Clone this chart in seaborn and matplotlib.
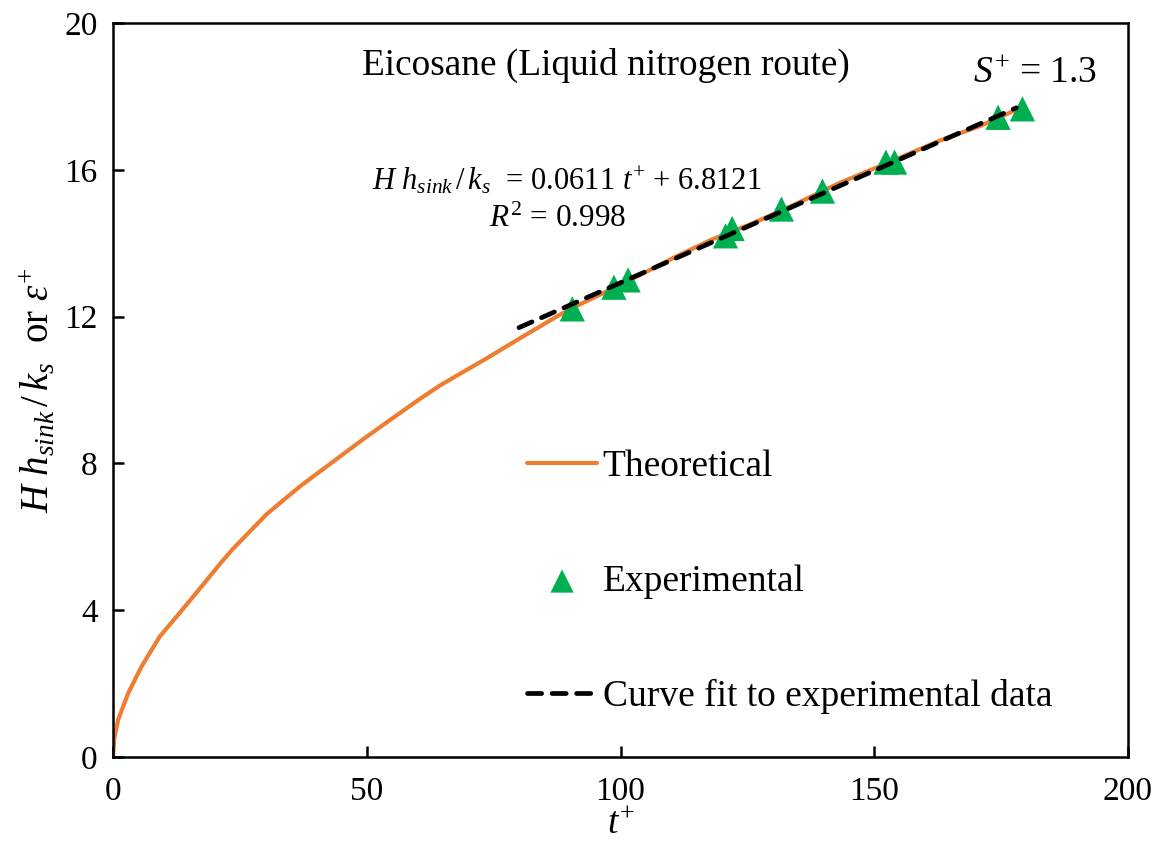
import matplotlib
matplotlib.use("Agg")
import matplotlib.pyplot as plt
import seaborn as sns
import pandas as pd

# ---- data ----
theo_t = [0, 0.25, 1.0, 3.0, 5.6, 9.2, 12.8, 16.7, 21.3, 23.7, 30.3, 36.8,
          43.4, 50.0, 56.6, 60.5, 64.4, 67.1, 73.6, 80.2, 86.8, 90, 96,
          103.8, 110.4, 118, 126.2, 135, 143.3, 152, 163, 171, 179]
theo_y = [0, 0.5, 1.01, 1.74, 2.46, 3.28, 3.87, 4.52, 5.3, 5.68, 6.62, 7.37,
          8.05, 8.73, 9.38, 9.76, 10.12, 10.34, 10.86, 11.41, 11.95, 12.2, 12.6,
          13.13, 13.6, 14.1, 14.55, 15.1, 15.65, 16.15, 16.8, 17.2, 17.7]

exp_t = [90.5, 98.7, 101.5, 120.7, 122.0, 131.7, 139.8, 152.3, 154.0, 174.4, 179.2]
exp_y = [12.21, 12.80, 13.0, 14.2, 14.4, 14.93, 15.42, 16.21, 16.21, 17.43, 17.66]

fit_t = [80, 178]
fit_y = [11.70, 17.69]

x_ticks = [0, 50, 100, 150, 200]
y_ticks = [0, 4, 8, 12, 16, 20]

# ---- style ----
sns.set_style("ticks")
plt.rcParams['font.family'] = ['Liberation Serif', 'DejaVu Serif']
plt.rcParams['mathtext.fontset'] = 'custom'
plt.rcParams['mathtext.rm'] = 'Liberation Serif'
plt.rcParams['mathtext.it'] = 'Liberation Serif:italic'
plt.rcParams['mathtext.bf'] = 'Liberation Serif:bold'
for k in ['text.color', 'axes.labelcolor', 'xtick.color', 'ytick.color', 'axes.edgecolor']:
    plt.rcParams[k] = 'black'

fig = plt.figure(figsize=(11.6, 8.5), dpi=100)
ax = fig.add_axes([113/1160, 1-757/850, (1128-113)/1160, (757-23)/850])

orange = '#ED7D31'
green = '#00B050'

df_theo = pd.DataFrame({'t': theo_t, 'y': theo_y})
df_exp = pd.DataFrame({'t': exp_t, 'y': exp_y})
df_fit = pd.DataFrame({'t': fit_t, 'y': fit_y})

sns.lineplot(data=df_theo, x='t', y='y', ax=ax, color=orange, linewidth=3,
             label='Theoretical', sort=False, zorder=2)
ax.lines[-1].set_solid_joinstyle('round')
sns.scatterplot(data=df_exp, x='t', y='y', ax=ax, color=green, marker='^',
                s=330, edgecolor='none', label='Experimental', zorder=3)
sns.lineplot(data=df_fit, x='t', y='y', ax=ax, color='black', linewidth=3.4,
             label='Curve fit to experimental data', zorder=4)
ax.lines[-1].set_dashes((3.0, 2.2))
ax.lines[-1].set_dash_capstyle('round')

ax.set_xlim(0, 200)
ax.set_ylim(0, 20)
ax.set_xticks(x_ticks)
ax.set_yticks(y_ticks)
ax.tick_params(direction='in', length=8, width=1.8, labelsize=24, colors='black')
ax.tick_params(axis='x', pad=14)
ax.tick_params(axis='y', pad=11)
for sp in ax.spines.values():
    sp.set_linewidth(1.8)
    sp.set_color('black')

ax.set_xlabel(r'$t^{+}$', fontsize=27, labelpad=0)
ax.set_ylabel(r'$H\ h_{sink}\,/\,k_s$  or $\varepsilon^{+}$', fontsize=28, labelpad=4)

ax.text(0.245, 0.942, 'Eicosane (Liquid nitrogen route)', transform=ax.transAxes,
        fontsize=26.8, ha='left', va='center')
ax.text(0.847, 0.932, r'$S^{+}$ = 1.3', transform=ax.transAxes,
        fontsize=27, ha='left', va='center')
ax.text(0.255, 0.785, r'$H\ h_{sink}\,/\,k_s$  = 0.0611 $t^{+}$ + 6.8121',
        transform=ax.transAxes, fontsize=22, ha='left', va='center')
ax.text(0.37, 0.733, r'$R^{2}$ = 0.998', transform=ax.transAxes,
        fontsize=22.5, ha='left', va='center')

handles, labels = ax.get_legend_handles_labels()
leg = ax.legend(handles, labels, loc='upper left',
                bbox_to_anchor=(527/1160, 1-450/850), bbox_transform=fig.transFigure,
                frameon=False, fontsize=27, handlelength=1.87, handletextpad=0.15,
                labelspacing=2.13, borderpad=0, borderaxespad=0, markerscale=0.92)

fig.savefig('out.png', dpi=100)
